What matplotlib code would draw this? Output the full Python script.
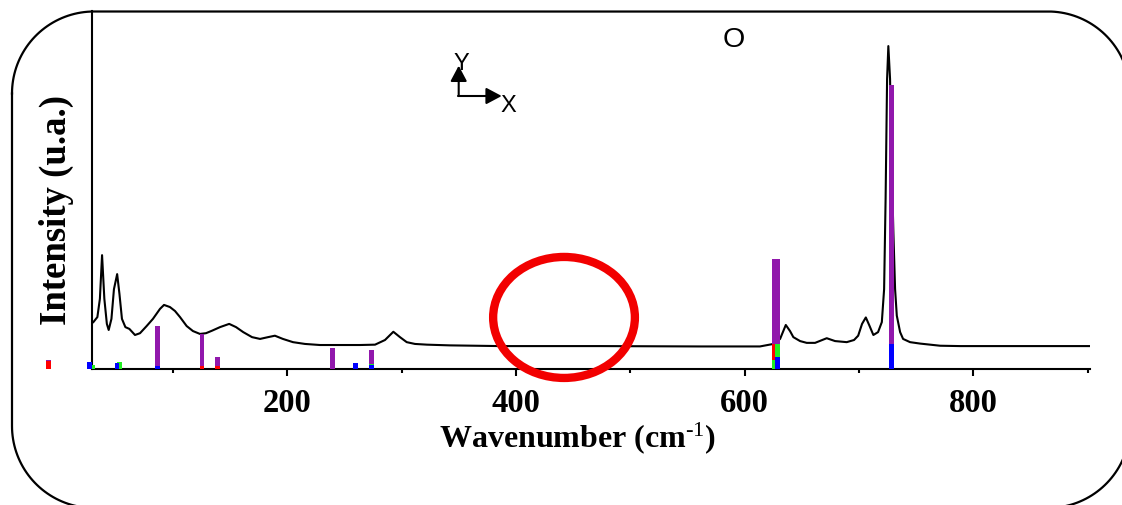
import numpy as np
import matplotlib.pyplot as plt
from matplotlib.patches import Ellipse
from matplotlib.ticker import MultipleLocator

plt.rcParams['font.family'] = 'Liberation Serif'
plt.rcParams['mathtext.fontset'] = 'custom'
plt.rcParams['mathtext.rm'] = 'Liberation Serif'
plt.rcParams['mathtext.bf'] = 'Liberation Serif:bold'
plt.rcParams['mathtext.default'] = 'bf'

# measured spectrum
wavenumber = [30.2, 33.7, 35.9, 37.8, 39.8, 42.0, 43.6, 46.0, 48.2, 51.0, 53.0, 55.2,
              58.2, 61.7, 66.6, 71.0, 76.8, 82.3, 88.5, 92.0, 97.2, 101.6, 106.0, 111.8,
              117.3, 123.4, 128.7, 134.0, 141.0, 149.0, 155.0, 161.3, 169.0, 176.0, 183.0,
              189.0, 196.0, 204.8, 215.3, 228.4, 246.0, 263.4, 276.6, 285.3, 292.6, 298.4,
              304.3, 311.5, 322.0, 342.0, 386.0, 473.4, 560.9, 613.3, 625.0, 630.9, 635.9,
              639.6, 642.5, 648.4, 654.2, 661.5, 671.7, 679.0, 689.2, 695.6, 699.2, 702.6,
              705.9, 708.8, 712.5, 716.6, 719.9, 721.9, 723.2, 724.5, 725.6, 727.1, 728.4,
              730.0, 731.5, 733.0, 735.9, 738.5, 744.6, 753.4, 770.9, 788.4, 823.4, 902.0]
intensity = [13.1, 14.5, 19.6, 31.8, 19.6, 12.6, 10.9, 14.0, 22.3, 26.5, 21.0, 14.0,
             11.7, 11.2, 9.5, 10.0, 12.0, 14.0, 16.8, 17.9, 17.3, 16.2, 14.5, 12.0,
             10.6, 9.8, 10.0, 10.7, 11.7, 12.6, 11.7, 10.3, 8.9, 8.4, 8.9,
             9.3, 8.4, 7.5, 7.0, 6.7, 6.7, 6.7, 6.8, 8.1, 10.4, 8.9,
             7.5, 7.0, 6.8, 6.6, 6.4, 6.4, 6.3, 6.3, 7.0, 8.4, 12.3,
             10.6, 8.9, 7.8, 7.3, 7.3, 8.6, 7.8, 7.5, 8.1, 9.3, 12.6,
             14.4, 12.3, 9.5, 10.3, 13.1, 22.3, 47.5, 81.0, 90.2, 81.0, 58.7,
             38.3, 22.3, 14.9, 10.3, 8.4, 7.5, 7.1, 6.5, 6.4, 6.4, 6.4]

# calculated modes, one series per colour
purple_pos = [-9.3, 86.4, 125.2, 138.9, 239.2, 273.3, 625.5, 628.4, 728.4]
purple_h = [2.5, 12.1, 9.7, 3.4, 5.9, 5.4, 30.7, 30.7, 79.3]
red_pos = [-9.3, 125.2, 138.9, 625.5]
red_h = [2.3, 0.75, 0.75, 7.0]
green_pos = [29.4, 53.0, 273.3, 625.5, 628.4]
green_h = [1.1, 2.0, 1.5, 2.5, 7.0]
blue_pos = [26.8, 51.0, 86.4, 259.7, 273.3, 628.4, 728.4]
blue_h = [2.0, 1.7, 0.9, 1.7, 1.2, 3.4, 7.0]

W, H = 1122, 506
fig = plt.figure(figsize=(W / 100, H / 100), dpi=100)
ax = fig.add_axes([92 / W, 1 - 370 / H, 998 / W, 358 / H])

ax.plot(wavenumber, intensity, color='black', lw=1.5, zorder=2)

series = [(purple_pos, purple_h, '#9118AC'),
          (red_pos, red_h, '#FF0000'),
          (green_pos, green_h, '#22EE22'),
          (blue_pos, blue_h, '#0000FF')]
for pos, h, c in series:
    bars = ax.bar(pos, h, width=4, color=c, zorder=3)
    for b in bars:
        b.set_clip_on(False)

ring = Ellipse((441.9, 14.4), 124, 33.8, fill=False, ec='#F20000', lw=6,
               zorder=5, clip_on=False)
ax.add_patch(ring)

ax.set_xlim(29, 902)
ax.set_ylim(0, 100)
ax.xaxis.set_major_locator(MultipleLocator(200))
ax.xaxis.set_minor_locator(MultipleLocator(100))
ax.tick_params(axis='x', which='major', length=5, width=1.5, pad=8, labelsize=23.5)
ax.tick_params(axis='x', which='minor', length=3, width=1.5)
ax.set_yticks([])
for lab in ax.get_xticklabels():
    lab.set_fontweight('bold')
for side in ['top', 'right']:
    ax.spines[side].set_visible(False)
for side in ['left', 'bottom']:
    ax.spines[side].set_linewidth(1.5)

ax.set_xlabel(r'Wavenumber (cm$^{\text{-1}}$)', fontsize=23, fontweight='bold')
ax.set_ylabel('Intensity (u.a.)', fontsize=26.5, fontweight='bold')
ax.xaxis.set_label_coords(0.487, -0.14)
ax.yaxis.set_label_coords(-0.018, 0.447)

# frame and axis glyph drawn in pixel coordinates over the whole figure
over = fig.add_axes([0, 0, 1, 1])
over.set_xlim(0, W)
over.set_ylim(H, 0)
over.set_axis_off()

x0, x1, y0, y1, r = 12, 1130, 12.5, 509, 82
corners = [(x0 + r, y0 + r, np.pi, 1.5 * np.pi),
           (x1 - r, y0 + r, 1.5 * np.pi, 2 * np.pi),
           (x1 - r, y1 - r, 0, 0.5 * np.pi),
           (x0 + r, y1 - r, 0.5 * np.pi, np.pi)]
fx, fy = [], []
for cx, cy, a0, a1 in corners:
    t = np.linspace(a0, a1, 40)
    fx.extend(cx + r * np.cos(t))
    fy.extend(cy + r * np.sin(t))
fx.append(fx[0])
fy.append(fy[0])
over.plot(fx, fy, color='black', lw=1.6, clip_on=False)

arrow = dict(arrowstyle='-|>,head_length=0.94,head_width=0.5', mutation_scale=10,
             lw=1.5, color='black', shrinkA=0, shrinkB=0)
over.annotate('', xy=(458.7, 66.7), xytext=(458.7, 97), arrowprops=arrow)
over.annotate('', xy=(501.7, 97), xytext=(458, 97), arrowprops=arrow)
over.text(461.5, 70, 'Y', family='Liberation Sans', fontsize=17, ha='center', va='baseline')
over.text(508.5, 111.5, 'X', family='Liberation Sans', fontsize=17, ha='center', va='baseline')
over.text(733.3, 47, 'O', family='Liberation Sans', fontsize=20.5, ha='center', va='baseline')

fig.savefig('out.png', dpi=100)
